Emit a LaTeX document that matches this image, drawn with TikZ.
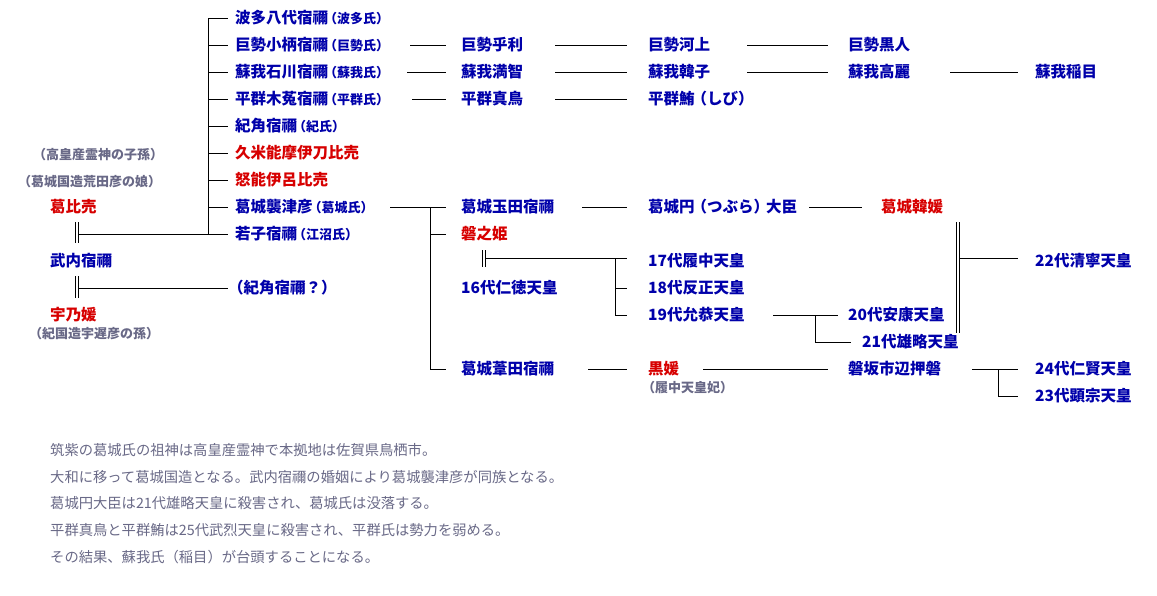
\documentclass[tikz,border=0pt]{standalone}
\usepackage{fontspec}
\newfontfamily\jp{Noto Sans CJK JP}
\definecolor{nb}{RGB}{0,0,170}
\definecolor{nr}{RGB}{215,0,0}
\definecolor{ng}{RGB}{105,105,135}
\newcommand\clan[1]{{\fontsize{13}{13}\selectfont\hspace{-4pt}（#1）}}
\begin{document}
\begin{tikzpicture}[x=1pt,y=-1pt,
  every node/.style={inner sep=0pt,anchor=west,font=\jp\bfseries\fontsize{15.5}{15.5}\selectfont},
  bl/.style={text=nb}, rd/.style={text=nr},
  gr/.style={text=ng,font=\jp\bfseries\fontsize{13}{13}\selectfont},
  note/.style={text=ng,font=\jp\fontsize{14.3}{14.3}\selectfont},
  ln/.style={draw=black,line width=0.9pt}]
\useasboundingbox[fill=white] (0,0) rectangle (1157,595);
% column 1
\node[bl] (a1) at (235,18) {波多八代宿禰\clan{波多氏}};
\node[bl] (a2) at (235,45) {巨勢小柄宿禰\clan{巨勢氏}};
\node[bl] (a3) at (235,72) {蘇我石川宿禰\clan{蘇我氏}};
\node[bl] (a4) at (235,99) {平群木菟宿禰\clan{平群氏}};
\node[bl] (a5) at (235,126) {紀角宿禰\clan{紀氏}};
\node[rd] (a6) at (235,153) {久米能摩伊刀比売};
\node[rd] (a7) at (235,180) {怒能伊呂比売};
\node[bl] (a8) at (235,207) {葛城襲津彦\clan{葛城氏}};
\node[bl] (a9) at (235,234) {若子宿禰\clan{江沼氏}};
\node[bl] (kk) at (228,288) {（紀角宿禰？）};
% left
\node[gr] (g1) at (33,155) {（高皇産霊神の子孫）};
\node[gr] (g2) at (18,182) {（葛城国造荒田彦の娘）};
\node[rd] (hime) at (50,207) {葛比売};
\node[bl] (take) at (50,261) {武内宿禰};
\node[rd] (uno) at (50,315) {宇乃媛};
\node[gr] (g3) at (29,334) {（紀国造宇遅彦の孫）};
% column 2
\node[bl] (b2) at (461,45) {巨勢乎利};
\node[bl] (b3) at (461,72) {蘇我満智};
\node[bl] (b4) at (461,99) {平群真鳥};
\node[bl] (b8) at (461,207) {葛城玉田宿禰};
\node[rd] (b9) at (461,234) {磐之姫};
\node[bl] (b11) at (461,288) {16代仁徳天皇};
\node[bl] (b14) at (461,369) {葛城葦田宿禰};
% column 3
\node[bl] (c2) at (648,45) {巨勢河上};
\node[bl] (c3) at (648,72) {蘇我韓子};
\node[bl] (c4) at (648,99) {平群鮪\hspace{-3pt}（しび）};
\node[bl] (c8) at (648,207) {葛城円\hspace{-3pt}（つぶら）\hspace{-3pt}大臣};
\node[bl] (c10) at (648,261) {17代履中天皇};
\node[bl] (c11) at (648,288) {18代反正天皇};
\node[bl] (c12) at (648,315) {19代允恭天皇};
\node[rd] (c14) at (648,369) {黒媛};
\node[gr] (g4) at (642,388) {（履中天皇妃）};
% column 4
\node[bl] (d2) at (848,45) {巨勢黒人};
\node[bl] (d3) at (848,72) {蘇我高麗};
\node[rd] (d8) at (881,207) {葛城韓媛};
\node[bl] (d12) at (848,315) {20代安康天皇};
\node[bl] (d13) at (862,342) {21代雄略天皇};
\node[bl] (d14) at (848,369) {磐坂市辺押磐};
% column 5
\node[bl] (e3) at (1035,72) {蘇我稲目};
\node[bl] (e10) at (1035,261) {22代清寧天皇};
\node[bl] (e14) at (1035,369) {24代仁賢天皇};
\node[bl] (e15) at (1035,396) {23代顕宗天皇};
% notes
\node[note] (n1) at (50,450) {筑紫の葛城氏の祖神は高皇産霊神で本拠地は佐賀県鳥栖市。};
\node[note] (n2) at (50,477) {大和に移って葛城国造となる。武内宿禰の婚姻により葛城襲津彦が同族となる。};
\node[note] (n3) at (50,503) {葛城円大臣は21代雄略天皇に殺害され、葛城氏は没落する。};
\node[note] (n4) at (50,530) {平群真鳥と平群鮪は25代武烈天皇に殺害され、平群氏は勢力を弱める。};
\node[note] (n5) at (50,557) {その結果、蘇我氏（稲目）が台頭することになる。};
% trunk
\draw[ln] (208,18) -- (208,234);
\foreach \n in {a1,a2,a3,a4,a5,a6,a7,a8,a9} \draw[ln] (208,0 |- \n.west) -- ([xshift=-7pt]\n.west);
% marriages left
\draw[ln] (75,222) -- (75,243) (78,222) -- (78,243);
\draw[ln] (78,234) -- (208,234);
\draw[ln] (75,276) -- (75,298) (78,276) -- (78,298);
\draw[ln] (78,288) -- (kk.west);
% row lines
\draw[ln] (410,45) -- ([xshift=-15pt]b2.west);
\draw[ln] (555,45) -- ([xshift=-21pt]c2.west);
\draw[ln] (747,45) -- ([xshift=-20pt]d2.west);
\draw[ln] (407,72) -- ([xshift=-15pt]b3.west);
\draw[ln] (555,72) -- ([xshift=-21pt]c3.west);
\draw[ln] (747,72) -- ([xshift=-20pt]d3.west);
\draw[ln] (950,72) -- ([xshift=-17pt]e3.west);
\draw[ln] (412,99) -- ([xshift=-15pt]b4.west);
\draw[ln] (555,99) -- ([xshift=-21pt]c4.west);
% Katsuragi branch
\draw[ln] (390,207) -- (430,207);
\draw[ln] (430,207) -- (430,369);
\foreach \n in {b8,b9,b14} \draw[ln] (430,0 |- \n.west) -- ([xshift=-15pt]\n.west);
\draw[ln] (582,207) -- ([xshift=-21pt]c8.west);
\draw[ln] ([xshift=12pt]c8.east) -- ([xshift=-19pt]d8.west);
% Iwanohime marriage
\draw[ln] (482,250) -- (482,267) (485,250) -- (485,267);
\draw[ln] (485,258) -- ([xshift=-21pt,yshift=3pt]c10.west);
\draw[ln] (615,258) -- (615,315);
\draw[ln] (615,288) -- ([xshift=-21pt]c11.west);
\draw[ln] (615,315) -- ([xshift=-21pt]c12.west);
\draw[ln] (773,315) -- ([xshift=-10pt]d12.west);
\draw[ln] (815,315) -- (815,342) -- ([xshift=-11pt]d13.west);
% Karahime marriage
\draw[ln] (956,222) -- (956,333) (959,222) -- (959,333);
\draw[ln] (959,258) -- ([xshift=-17pt,yshift=3pt]e10.west);
% Ashida line
\draw[ln] (588,369) -- ([xshift=-21pt]c14.west);
\draw[ln] (703,369) -- ([xshift=-20pt]d14.west);
\draw[ln] (972,369) -- ([xshift=-17pt]e14.west);
\draw[ln] (998,369) -- (998,396) -- ([xshift=-17pt]e15.west);
\end{tikzpicture}
\end{document}
